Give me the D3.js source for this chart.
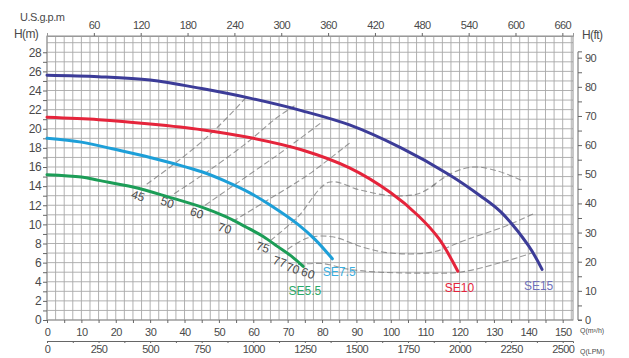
<!DOCTYPE html>
<html><head><meta charset="utf-8">
<script src="https://cdn.jsdelivr.net/npm/d3@7/dist/d3.min.js"></script>
<style>body{margin:0;background:#fff}svg{display:block}text{font-family:"Liberation Sans",Arial,sans-serif;fill:#4a4a4a}</style>
</head><body><svg id="c" width="629" height="358"></svg>
<script>
// ---- data ----
const qTicks = [0,10,20,30,40,50,60,70,80,90,100,110,120,130,140,150];
const hTicks = [0,2,4,6,8,10,12,14,16,18,20,22,24,26,28];
const ftTicks = [0,10,20,30,40,50,60,70,80,90];
const gpmTicks = [60,120,180,240,300,360,420,480,540,600,660];
const lpmTicks = [0,250,500,750,1000,1250,1500,1750,2000,2250,2500];

const se15Q = [0,15,30,45,59,74,88,103,117,126,132,140,144];
const se15H = [25.6,25.45,25.1,24.2,23.2,21.9,20.4,18.0,15.2,13.0,11.3,7.8,5.3];
const se10Q = [0,15,30,45,60,74,88,100,108,114,119.5];
const se10H = [21.2,20.95,20.5,19.9,19.0,17.8,15.9,13.3,10.9,8.5,5.1];
const se75Q = [0,10,19,30,45,52,59,65,73,78,83];
const se75H = [19.0,18.6,17.9,17.0,15.5,14.5,13.3,12.0,10.0,8.4,6.4];
const se55Q = [0,10,15,25,35,45,52,58,63,67,71,74.5];
const se55H = [15.2,14.95,14.6,13.9,12.9,11.8,10.8,9.7,8.7,7.7,6.7,5.6];

const seriesNames = ["SE15","SE10","SE7.5","SE5.5"];
const seriesColors = ["#3c3c98","#e5243b","#1d9fd8","#1c9d57"];
const labelColors = ["#7070b8","#e5243b","#3aaee0","#2aa868"];
const labelQ = [143,120,85,75];
const labelH = [3.6,3.4,5.0,3.1];

// efficiency iso-lines (Q m3/h, H m)
const eff1Q = [29,38,48,58];        const eff1H = [14.2,16.6,19.6,23.3];
const eff2Q = [37,47,58,67,72];     const eff2H = [13.2,15.6,18.5,21.2,22.4];
const eff3Q = [46,56,68,80];        const eff3H = [12.0,14.5,17.5,20.7];
const eff4Q = [54,64,76,88];        const eff4H = [10.3,12.5,15.2,18.5];
const eff5Q = [65,73,82,91,100,108,113]; const eff5H = [8.3,10.8,14.4,13.6,13.0,13.2,14.2];
const eff6Q = [70,76,83,92,100,112,122,134,142]; const eff6H = [7.4,8.6,8.7,7.6,7.0,7.1,8.4,9.9,11.2];
const eff7Q = [73,80,88,97,110,120,132,141]; const eff7H = [5.8,5.9,5.3,5.0,4.9,5.0,6.0,7.0];
const eff8Q = [112,118,124,131,138]; const eff8H = [14.0,15.4,16.0,15.6,14.6];
const effLabels = ["45","50","60","70","75","77","70","60"];
const effLabQ = [26.5,35,43.6,51.7,62.8,67.7,71.5,75.9];
const effLabH = [13.0,12.3,11.2,9.6,7.6,6.1,5.4,4.9];

// ---- chart ----
const svg = d3.select("#c");
const x = d3.scaleLinear().domain([0,153]).range([47,573]);
const y = d3.scaleLinear().domain([0,29.7]).range([320,36]);
const yFt = d3.scaleLinear().domain([0,29.7*3.2808]).range([320,36]);
const xGpm = d3.scaleLinear().domain([0,153*4.4029]).range([47,573]);
const xLpm = d3.scaleLinear().domain([0,153*16.667]).range([47,573]);

// grid
const g = svg.append("g");
g.selectAll("line.v").data(d3.range(0,153,2.5)).join("line")
 .attr("x1",d=>x(d)).attr("x2",d=>x(d)).attr("y1",y(29.7)).attr("y2",y(0))
 .attr("stroke","#a8a8a8").attr("stroke-width",0.9);
g.selectAll("line.h").data(d3.range(0,30,1)).join("line")
 .attr("y1",d=>y(d)).attr("y2",d=>y(d)).attr("x1",x(0)).attr("x2",x(153))
 .attr("stroke","#a8a8a8").attr("stroke-width",0.9);
g.append("rect").attr("x",x(0)).attr("y",y(29.7)).attr("width",x(153)-x(0)).attr("height",y(0)-y(29.7))
 .attr("fill","none").attr("stroke","#909090").attr("stroke-width",1);

// axes
const axL = d3.axisLeft(y).tickValues(d3.range(0,29,1)).tickSize(4).tickFormat(d=>d%2===0?d:"");
const aL = svg.append("g").attr("transform",`translate(${x(0)},0)`).call(axL);
const axB = d3.axisBottom(x).tickValues(d3.range(0,151,5)).tickSize(3).tickFormat(d=>d%10===0?d:"");
const aB = svg.append("g").attr("transform",`translate(0,${y(0)})`).call(axB);
const axT = d3.axisTop(xGpm).tickValues(gpmTicks).tickSize(3);
const aT = svg.append("g").attr("transform",`translate(0,${y(29.7)})`).call(axT);
const axR = d3.axisRight(yFt).tickValues(d3.range(0,95,5)).tickSize(4).tickFormat(d=>d%10===0?d:"");
const aR = svg.append("g").attr("transform",`translate(578,0)`).call(axR);
const axLp = d3.axisBottom(xLpm).tickValues(d3.range(0,2501,125)).tickSize(2).tickFormat(d=>d%250===0?d:"");
const aLp = svg.append("g").attr("transform",`translate(0,341)`).call(axLp);
[aL,aB,aT,aR,aLp].forEach(a=>{
  a.select(".domain").attr("stroke","#666");
  a.selectAll(".tick line").attr("stroke","#666");
  a.selectAll("text").attr("fill","#4a4a4a").style("font-size","11px").style("letter-spacing","-0.6px");
});
aL.select(".domain").remove();
aB.select(".domain").remove();
aT.select(".domain").attr("stroke","#999");
aR.select(".domain").attr("d","M4,"+yFt(0)+"H0V"+yFt(92)+"H4");
aL.selectAll("text").attr("x",-6).style("font-size","12px");
aB.selectAll("text").attr("dy","0.9em");
aT.selectAll("text").attr("dy","-0.1em");
aLp.selectAll("text").attr("y",4).attr("dy","0.72em");

// axis titles
svg.append("text").attr("x",20).attr("y",21).style("font-size","11px").style("letter-spacing","-0.5px").text("U.S.g.p.m");
svg.append("text").attr("x",14).attr("y",38).style("font-size","12px").style("letter-spacing","-0.6px").text("H(m)");
svg.append("text").attr("x",582).attr("y",39).style("font-size","12px").style("letter-spacing","-0.6px").text("H(ft)");
svg.append("text").attr("x",580).attr("y",333).style("font-size","7px").text("Q(m³/h)");
svg.append("text").attr("x",580).attr("y",354).style("font-size","7px").text("Q(LPM)");

// efficiency lines
const effSets = [[eff1Q,eff1H],[eff2Q,eff2H],[eff3Q,eff3H],[eff4Q,eff4H],[eff5Q,eff5H],[eff6Q,eff6H],[eff7Q,eff7H],[eff8Q,eff8H]];
const lineGen = d3.line().x(d=>x(d[0])).y(d=>y(d[1])).curve(d3.curveCatmullRom);
svg.append("g").selectAll("path").data(effSets).join("path")
 .attr("d",s=>lineGen(s[0].map((q,i)=>[q,s[1][i]])))
 .attr("fill","none").attr("stroke","#777").attr("stroke-width",1.1).attr("stroke-dasharray","6,3").attr("opacity",0.75);
svg.append("g").selectAll("text").data(effLabels).join("text")
 .attr("transform",(d,i)=>`translate(${x(effLabQ[i])},${y(effLabH[i])}) rotate(18)`)
 .attr("text-anchor","middle").attr("dy","0.35em").style("font-size","12px").attr("fill","#555").text(d=>d);

// pump curves
const allQ = [se15Q,se10Q,se75Q,se55Q];
const allH = [se15H,se10H,se75H,se55H];
const curveGen = d3.line().x(d=>x(d[0])).y(d=>y(d[1])).curve(d3.curveCatmullRom.alpha(0.5));
svg.append("g").selectAll("path").data(seriesNames).join("path")
 .attr("d",(d,i)=>curveGen(allQ[i].map((q,j)=>[q,allH[i][j]])))
 .attr("fill","none").attr("stroke",(d,i)=>seriesColors[i]).attr("stroke-width",3).attr("stroke-linecap","round");
svg.append("g").selectAll("text").data(seriesNames).join("text")
 .attr("x",(d,i)=>x(labelQ[i])).attr("y",(d,i)=>y(labelH[i]))
 .attr("text-anchor","middle").attr("dy","0.35em").style("font-size","12px")
 .style("fill",(d,i)=>labelColors[i]).text(d=>d);
</script></body></html>
